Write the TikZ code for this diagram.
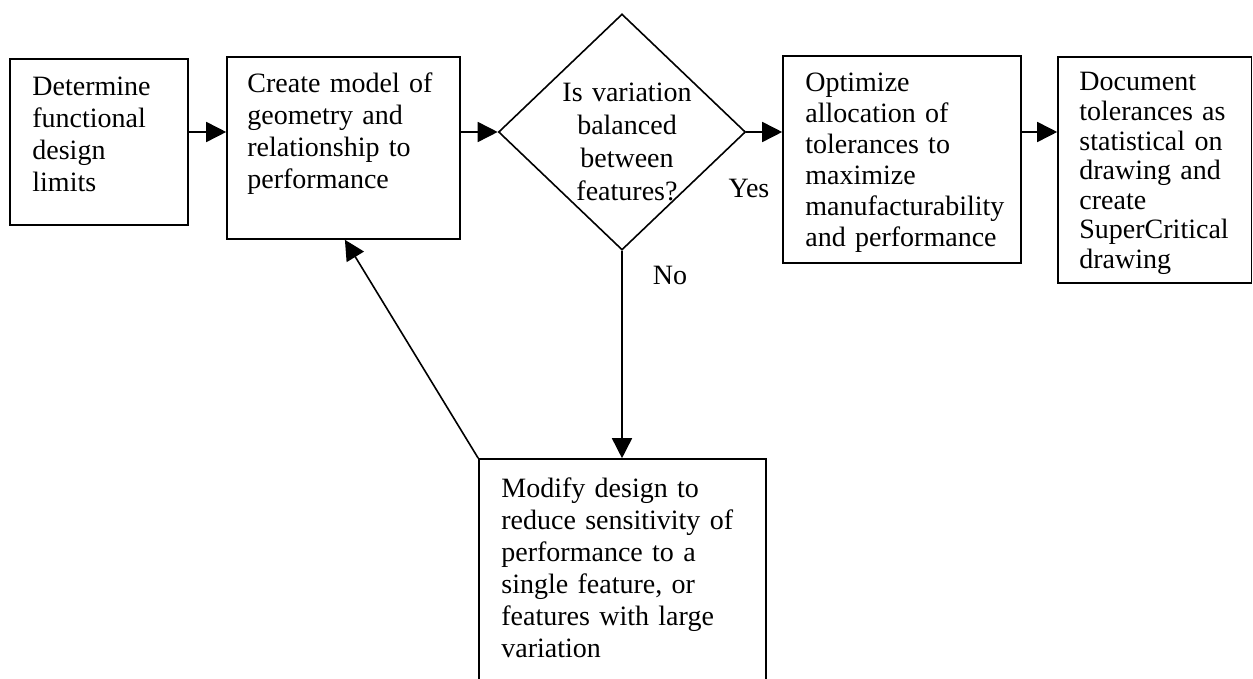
\documentclass[tikz,border=0pt]{standalone}
\usepackage{fontspec}
\setmainfont{Liberation Serif}
\usetikzlibrary{arrows.meta,shapes.geometric,fit,calc}

\begin{document}
\begin{tikzpicture}[x=0.5pt,y=-0.5pt,
  boxshape/.style={draw,line width=0.8pt,inner sep=0pt,fit={#1}},
  label/.style={inner sep=0pt,anchor=base west,align=left,
    font={\fontsize{14}{16}\selectfont}},
  arr/.style={line width=0.8pt,-{Triangle[length=10pt,width=10pt]}},
  tag/.style={inner sep=0pt,anchor=base,font={\fontsize{14}{16}\selectfont}}]

\useasboundingbox (0,0) rectangle (1253,679);

% process boxes
\node[boxshape={(10,59) (188,225)}] (b1) {};
\node[boxshape={(227,57) (460,239)}] (b2) {};
\node[boxshape={(783,56) (1021,263)}] (b3) {};
\node[boxshape={(1058,57) (1251.5,283)}] (b4) {};
\node[boxshape={(479,459) (766,700)}] (b5) {};

% decision
\node[draw,diamond,line width=0.8pt,inner sep=0pt,
      minimum width=123.5pt,minimum height=118pt] (d) at (622,132) {};

% box texts
\node[label,text width=80pt] (t1) at (32,96)
  {Determine\\functional\\design\\limits};
\node[label,text width=110pt] (t2) at (247,93)
  {Create model of\\geometry and\\relationship to\\performance};
\node[label,text width=115pt,font={\fontsize{14}{15.5}\selectfont}] (t3) at (805,92)
  {Optimize\\allocation of\\tolerances to\\maximize\\manufacturability\\and performance};
\node[label,text width=90pt,font={\fontsize{14}{14.8}\selectfont}] (t4) at (1079,91)
  {Document\\tolerances as\\statistical on\\drawing and\\create\\SuperCritical\\drawing};
\node[label,text width=135pt] (t5) at (501,497)
  {Modify design to\\reduce sensitivity of\\performance to a\\single feature, or\\features with large\\variation};
\node[label,anchor=base,align=center,text width=80pt,
      font={\fontsize{14}{16.5}\selectfont}] (td) at (627,102)
  {Is variation\\balanced\\between\\features?};

% branch tags
\node[tag] (yes) at (749,198) {Yes};
\node[tag] (no) at (670,285) {No};

% connectors
\draw[arr] (b1.east |- d.west) -- (b2.west |- d.west);
\draw[arr] (b2.east |- d.west) -- (d.west);
\draw[arr] (d.east) -- (b3.west |- d.east);
\draw[arr] (b3.east |- d.east) -- (b4.west |- d.east);
\draw[arr] (d.south) -- (b5.north -| d.south);
\draw[arr] (b5.north west) -- ($(b2.south west)!0.506!(b2.south east)$);
\end{tikzpicture}
\end{document}
